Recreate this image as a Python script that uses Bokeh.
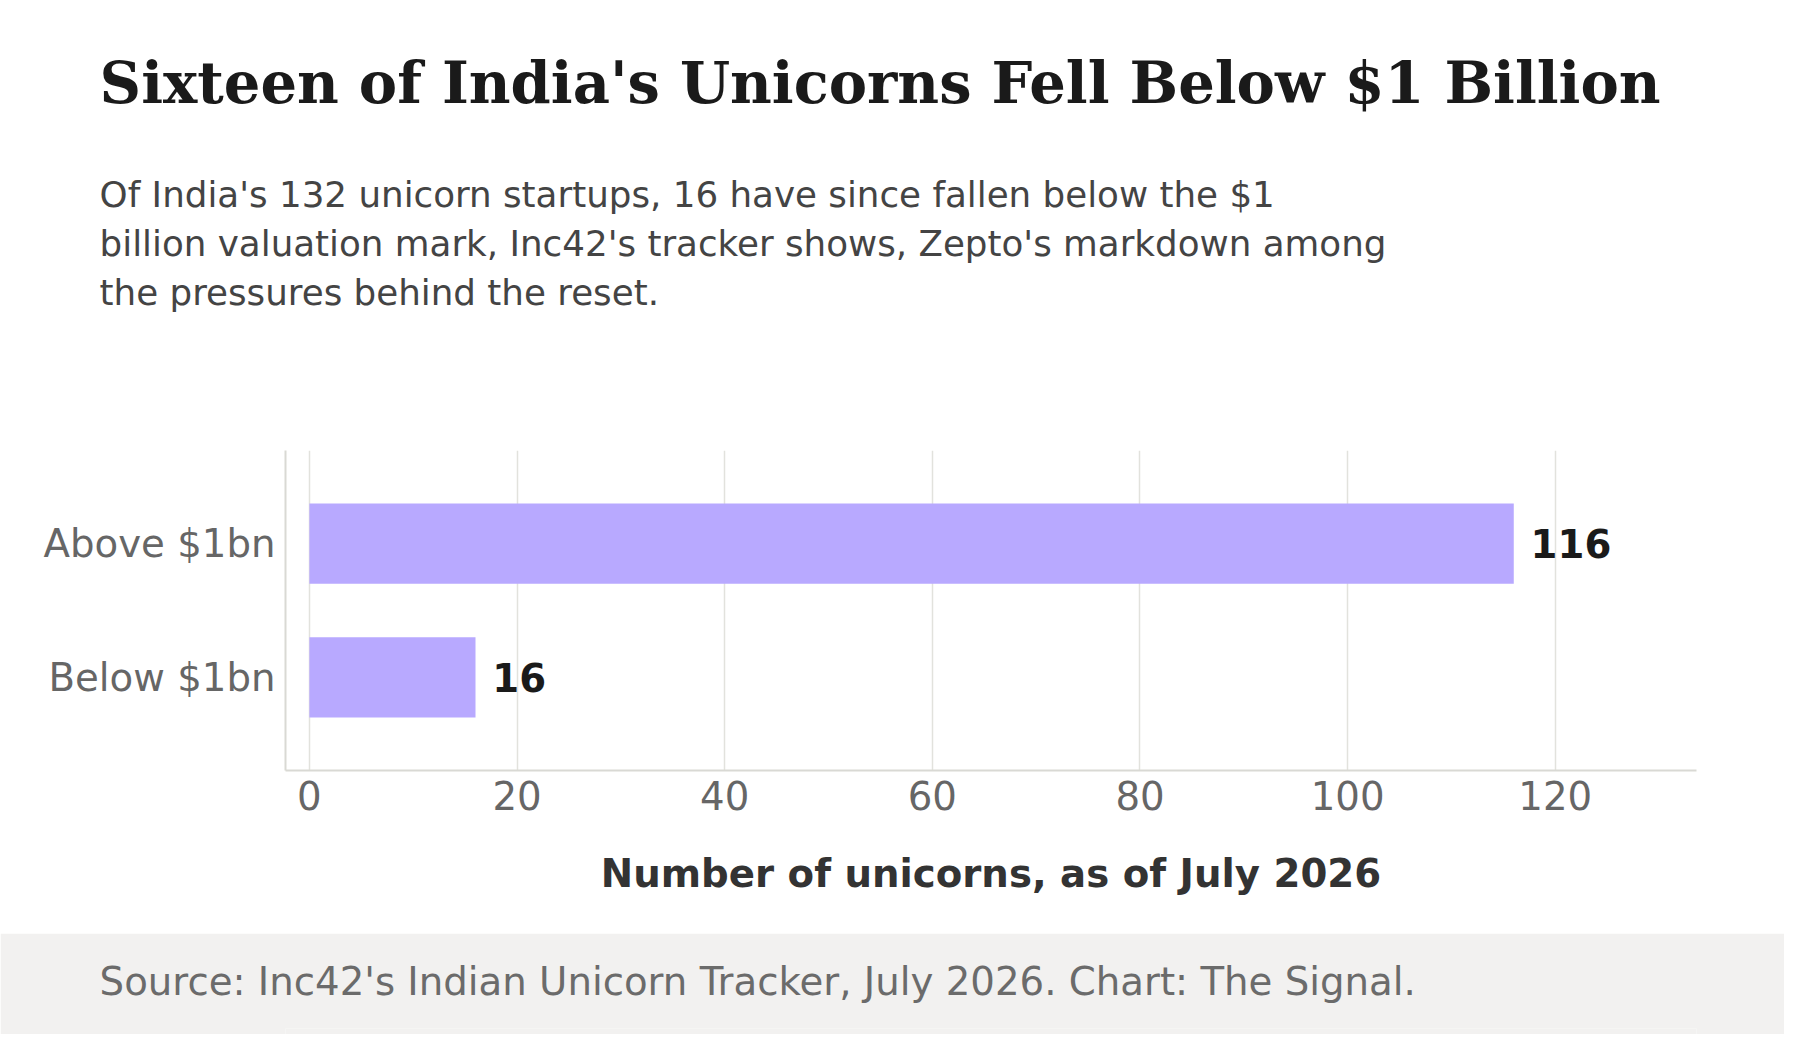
from bokeh.plotting import figure
from bokeh.models import FactorRange, Range1d, Title, FixedTicker, ColumnDataSource
from bokeh.layouts import column
from bokeh.embed import file_html
from bokeh.resources import INLINE
from bokeh.core.properties import value

# ---- data ----
categories = ["Below $1bn", "Above $1bn"]
counts = [16, 116]
x_ticks = [0, 20, 40, 60, 80, 100, 120]

title_text = "Sixteen of India's Unicorns Fell Below $1 Billion"
subtitle_lines = [
    "Of India's 132 unicorn startups, 16 have since fallen below the $1",
    "billion valuation mark, Inc42's tracker shows, Zepto's markdown among",
    "the pressures behind the reset.",
]
x_label = "Number of unicorns, as of July 2026"
source_text = "Source: Inc42's Indian Unicorn Tracker, July 2026. Chart: The Signal."

BAR = "#b8a9ff"
SANS = "DejaVu Sans"
SERIF = "DejaVu Serif"

W, H = 1784, 1034
SX, SY = W / 1800, H / 1050          # reference (1800x1050) -> page
def px(v):
    return v * SX
def py(v):
    return v * SY
def fs(v):
    return f"{v * SX:.1f}px"

ASC, DESC = 0.93, 0.24                # approx font metrics
HGT = ASC + DESC

FL = round(px(288))
FR = W - round(px(1711))
HEADER_H = round(py(447))
MAIN_H = round(py(947)) - HEADER_H
FOOT_H = H - HEADER_H - MAIN_H
frame_top = round(py(457)) - HEADER_H
frame_bot = round(py(782)) - HEADER_H
OFFSET = px(100) - FL

def mk_title(text, font, size, color, style, standoff):
    return Title(text=text, text_font=font, text_font_size=f"{size:.1f}px",
                 text_color=color, text_font_style=style, align="left",
                 vertical_align="bottom", standoff=standoff, offset=OFFSET)

# ---- header ----
hdr = figure(width=W, height=HEADER_H, output_backend="svg", toolbar_location=None,
             x_axis_type=None, y_axis_type=None, x_range=Range1d(0, 1), y_range=Range1d(0, 1),
             min_border_left=FL, min_border_right=FR, min_border_top=0, min_border_bottom=0,
             background_fill_color="white", border_fill_color="white", outline_line_color=None)
hdr.grid.visible = False

ft_size, sub_size = 58 * SX, 36 * SX
b_title, b_sub1, sub_gap = py(103), py(209), py(50.5)
s_title = 2 * (b_title - 2 - ASC * ft_size)
top = 2 + HGT * ft_size + s_title
s_sub = max(0.0, sub_gap - 2 - HGT * sub_size)
spacer_h = b_sub1 - (top + 2 + s_sub / 2 + ASC * sub_size)

stack = [mk_title(title_text, SERIF, ft_size, "#1a1a1a", "bold", s_title)]
if spacer_h > 3.2:
    stack.append(mk_title(" ", SANS, 1, "#ffffff", "normal", spacer_h - 2 - HGT))
for line in subtitle_lines:
    stack.append(mk_title(line, SANS, sub_size, "#444444", "normal", s_sub))
for t in reversed(stack):
    hdr.add_layout(t, "above")

# ---- main chart ----
p = figure(width=W, height=MAIN_H, output_backend="svg", toolbar_location=None,
           y_range=FactorRange(factors=categories, range_padding=0.195),
           x_range=Range1d(-2.3, 133.6),
           min_border_left=FL, min_border_right=FR,
           min_border_top=frame_top, min_border_bottom=MAIN_H - frame_bot,
           background_fill_color="white", border_fill_color="white", outline_line_color=None)

src = ColumnDataSource(dict(cat=categories, n=counts, lab=[str(c) for c in counts]))
p.hbar(y="cat", right="n", left=0, height=0.6, source=src, fill_color=BAR, line_color=None)
p.text(x="n", y="cat", text="lab", source=src, x_offset=px(17), text_baseline="middle",
       text_align="left", text_font=value(SANS), text_font_style="bold",
       text_font_size=fs(39), text_color="#1a1a1a")

p.xaxis.ticker = FixedTicker(ticks=x_ticks)
p.xgrid.ticker = FixedTicker(ticks=x_ticks)
p.xgrid.grid_line_color = "#e2e2dd"
p.xgrid.grid_line_width = 1.5
p.ygrid.grid_line_color = None

for ax in (p.xaxis, p.yaxis):
    ax.axis_line_color = "#d9d9d4"
    ax.axis_line_width = 2
    ax.major_tick_line_color = None
    ax.minor_tick_line_color = None
    ax.major_label_text_font = SANS
    ax.major_label_text_font_size = fs(39)
    ax.major_label_text_color = "#666666"
p.xaxis.major_label_standoff = 4
p.yaxis.major_label_standoff = 4
p.xaxis.axis_label = x_label
p.xaxis.axis_label_text_font = SANS
p.xaxis.axis_label_text_font_style = "bold"
p.xaxis.axis_label_text_font_size = fs(39)
p.xaxis.axis_label_text_color = "#333333"
p.xaxis.axis_label_standoff = 38

# ---- footer ----
ftr = figure(width=W, height=FOOT_H, output_backend="svg", toolbar_location=None,
             x_axis_type=None, y_axis_type=None, x_range=Range1d(0, 1), y_range=Range1d(0, 1),
             min_border_left=FL, min_border_right=FR, min_border_top=0, min_border_bottom=0,
             background_fill_color="#f2f1f0", border_fill_color="#f2f1f0", outline_line_color=None)
ftr.grid.visible = False
src_size = 39 * SX
b_src = py(1010) - py(947)
ftr.add_layout(mk_title(source_text, SANS, src_size, "#6b6b6b", "normal",
                        2 * (b_src - 2 - ASC * src_size)), "above")

layout = column(hdr, p, ftr, spacing=0)
open("out.html", "w").write(file_html(layout, INLINE))
